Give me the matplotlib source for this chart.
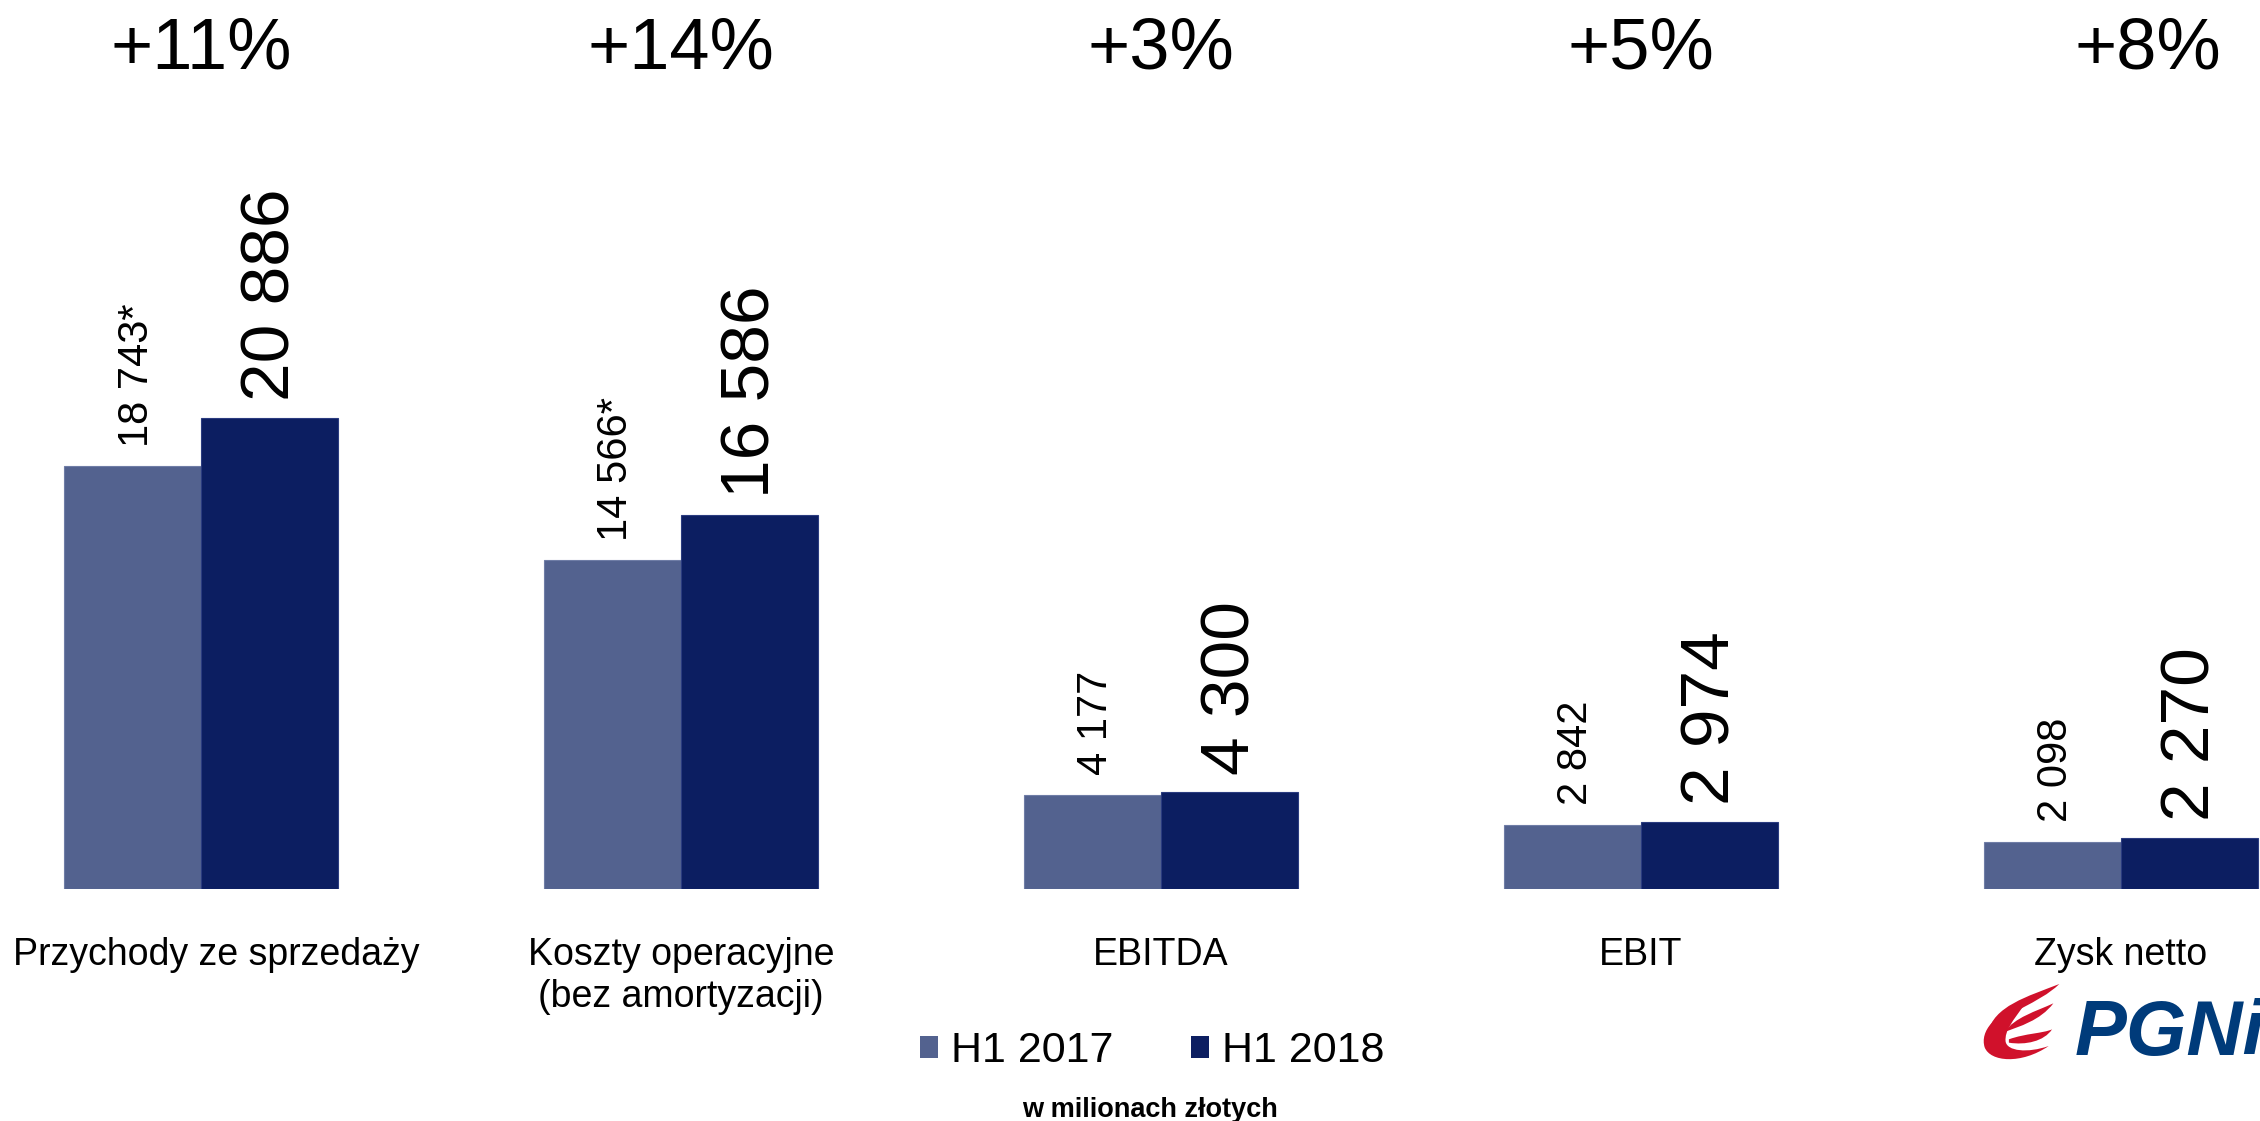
import numpy as np
import matplotlib
matplotlib.use("Agg")
from matplotlib import pyplot as plt
from matplotlib.patches import Patch, PathPatch
from matplotlib.path import Path
import matplotlib.transforms as mtransforms

plt.rcParams['font.family'] = ['Liberation Sans', 'DejaVu Sans']

# data
categories = ["Przychody ze sprzedaży", "Koszty operacyjne\n(bez amortyzacji)", "EBITDA", "EBIT", "Zysk netto"]
h1_2017 = [18743, 14566, 4177, 2842, 2098]
h1_2018 = [20886, 16586, 4300, 2974, 2270]
footnote_2017 = [True, True, False, False, False]
changes = ["+11%", "+14%", "+3%", "+5%", "+8%"]
series_names = ["H1 2017", "H1 2018"]
unit_note = "w milionach złotych"

c2017 = "#53628F"
c2018 = "#0C1E61"

def fmt(v):
    return f"{v:,}".replace(",", " ")

fig = plt.figure(figsize=(22.6, 11.21), dpi=100)
ax = fig.add_axes([0, 0.207, 1, 0.793])

x = np.arange(len(categories))
w = 0.285
b1 = ax.bar(x - w/2, h1_2017, width=w, color=c2017, edgecolor="#6F7DA6", linewidth=0.8)
b2 = ax.bar(x + w/2, h1_2018, width=w, color=c2018, edgecolor="#2B3C80", linewidth=0.8)

# value labels, rotated
for i, bar in enumerate(b1):
    txt = fmt(h1_2017[i]) + ("*" if footnote_2017[i] else "")
    ax.annotate(txt, (bar.get_x() + bar.get_width()/2 + 0.008, bar.get_height()),
                xytext=(0, 14), textcoords="offset points", rotation=90,
                ha="center", va="bottom", fontsize=30)
for i, bar in enumerate(b2):
    ax.annotate(fmt(h1_2018[i]), (bar.get_x() + bar.get_width()/2 + 0.005, bar.get_height()),
                xytext=(0, 12), textcoords="offset points", rotation=90,
                ha="center", va="bottom", fontsize=50)

ax.set_xlim(-0.419, 4.290)
ax.set_ylim(0, 39390)
ax.axis("off")

# percent changes on top and category names below
trans = mtransforms.blended_transform_factory(ax.transData, fig.transFigure)
for i, ch in enumerate(changes):
    dx = 0.056 if i == len(changes) - 1 else 0.0
    fig.text(x[i] + dx, 0.939, ch, transform=trans, ha="center", va="baseline", fontsize=52)
for i, cat in enumerate(categories):
    dx = 0.031 if i == 0 else 0.0   # first label kept clear of the left edge
    fig.text(x[i] + dx, 0.164, cat, transform=trans, ha="center", va="top",
             fontsize=27, linespacing=1.22)

# legend
handles = [Patch(facecolor=c2017), Patch(facecolor=c2018)]
fig.legend(handles, series_names, loc="center", bbox_to_anchor=(0.51, 0.062), ncol=2,
           frameon=False, fontsize=31, handlelength=0.42, handleheight=0.42,
           handletextpad=0.3, columnspacing=1.8)

fig.text(0.509, 0.0036, unit_note, ha="center", va="baseline", fontsize=19.5, fontweight="bold")

# PGNiG logo (rough sketch of the wing + wordmark)
fig.text(2075/2260, 1 - 1055/1121, "PGNiG", ha="left", va="baseline", fontsize=56,
         fontweight="bold", fontstyle="italic", color="#003B7A")
lax = fig.add_axes([1983/2260, 1 - 1063/1121, 77/2260, 80/1121])
lax.set_xlim(40, 272)
lax.set_ylim(275, 35)
lax.axis("off")
red = "#D0112B"
M, C4 = Path.MOVETO, Path.CURVE4

def shape(pts):
    codes = [M] + [C4] * (len(pts) - 1)
    lax.add_patch(PathPatch(Path(pts, codes), facecolor=red, edgecolor="none"))

# big C body
shape([(165, 100), (75, 125), (30, 180), (45, 228), (62, 272), (155, 280), (238, 224),
       (175, 246), (112, 240), (108, 210), (105, 178), (130, 148), (165, 100)])
# top swoosh
shape([(55, 185), (70, 105), (175, 75), (270, 38), (205, 100), (115, 115), (55, 185)])
# middle swoosh
shape([(105, 182), (135, 138), (200, 120), (252, 96), (212, 148), (150, 165), (105, 182)])
# lower arm
shape([(118, 204), (168, 186), (222, 186), (248, 174), (224, 210), (168, 222), (118, 214)])

fig.savefig("out.png", dpi=100)
